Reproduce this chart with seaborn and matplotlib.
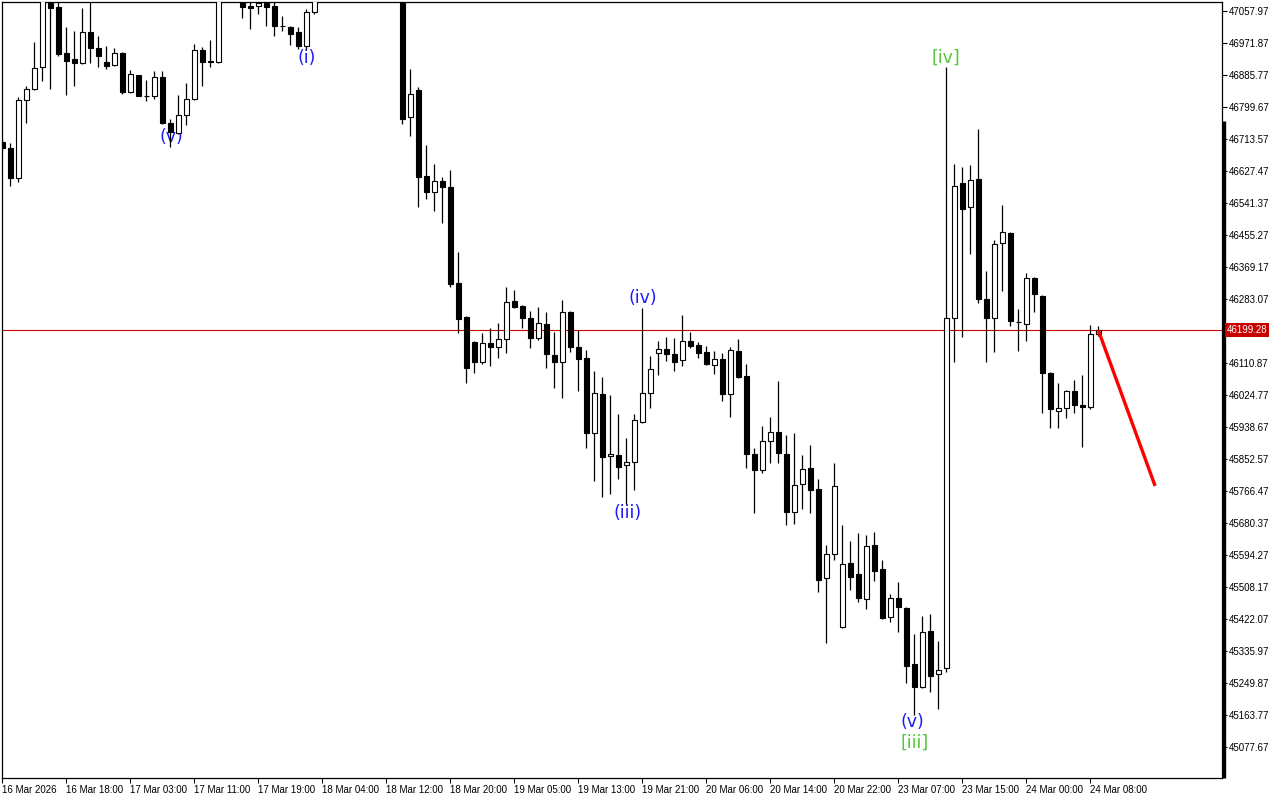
import numpy as np
import pandas as pd
import seaborn as sns
import matplotlib.pyplot as plt
from matplotlib.transforms import ScaledTranslation, blended_transform_factory

# hourly bars, index 0 .. 137
opens = [46705, 46689, 46609, 46819, 46848, 46907, 47109, 47069, 46945, 46929,
         46918, 47002, 46958, 46921, 46913, 46945, 46840, 46886, 46830, 46829,
         46880, 46757, 46730, 46778, 46821, 46953, 46923, 46921, 47109, 47140,
         47110, 47071, 47071, 47080, 47071, 47018, 47015, 47002, 46964, 47055,
         47085, 47130, 47165, 47190, 47175, 47205, 47240, 47215, 47230, 47255,
         47200, 46773, 46845, 46614, 46571, 46601, 46584, 46326, 46235, 46167,
         46114, 46165, 46154, 46175, 46278, 46264, 46232, 46178, 46216, 46132,
         46114, 46248, 46154, 46124, 45923, 46028, 45861, 45863, 45836, 45845,
         45952, 46030, 46138, 46149, 46135, 46119, 46170, 46159, 46140, 46105,
         46122, 46028, 46143, 46076, 45866, 45823, 45901, 45925, 45866, 45710,
         45785, 45828, 45772, 45532, 45597, 45401, 45573, 45543, 45476, 45621,
         45557, 45427, 45479, 45452, 45301, 45239, 45390, 45274, 45290, 46232,
         46595, 46531, 46606, 46283, 46232, 46434, 46461, 46222, 46216, 46340,
         46291, 46084, 45982, 45990, 46036, 45998, 45993, 46189]
highs = [46716, 46703, 46827, 46856, 46975, 47128, 47120, 47093, 47015, 47004,
         47066, 47085, 46991, 46964, 46958, 46948, 46899, 46887, 46872, 46897,
         46897, 46767, 46832, 46864, 46969, 46961, 46980, 47125, 47160, 47165,
         47120, 47095, 47100, 47098, 47090, 47045, 47018, 47015, 47063, 47110,
         47140, 47180, 47210, 47230, 47220, 47260, 47270, 47250, 47280, 47290,
         47210, 46902, 46853, 46697, 46646, 46611, 46630, 46410, 46237, 46170,
         46192, 46205, 46219, 46315, 46307, 46266, 46251, 46262, 46248, 46194,
         46280, 46250, 46200, 46146, 46089, 46073, 46025, 45974, 45909, 45974,
         46259, 46130, 46170, 46181, 46178, 46240, 46194, 46167, 46157, 46143,
         46138, 46154, 46175, 46108, 45882, 45941, 45966, 46062, 45917, 45923,
         45863, 45890, 45799, 45621, 45842, 45675, 45632, 45653, 45648, 45656,
         45581, 45489, 45522, 45454, 45382, 45430, 45436, 45363, 46907, 46646,
         46638, 46644, 46740, 46358, 46442, 46536, 46464, 46256, 46353, 46341,
         46294, 46086, 46057, 46037, 46065, 46079, 46213, 46210]
lows = [46679, 46587, 46598, 46757, 46845, 46870, 46848, 46937, 46832, 46856,
        46916, 46918, 46907, 46902, 46911, 46835, 46838, 46828, 46816, 46821,
        46755, 46692, 46728, 46751, 46819, 46856, 46907, 46918, 47095, 47100,
        47039, 47010, 47050, 47018, 46991, 47004, 46966, 46956, 46956, 47050,
        47092, 47110, 47150, 47160, 47150, 47190, 47200, 47180, 47210, 47190,
        46754, 46722, 46531, 46552, 46520, 46488, 46315, 46192, 46057, 46084,
        46108, 46103, 46124, 46138, 46260, 46205, 46151, 46173, 46097, 46044,
        46017, 46141, 46036, 45882, 45793, 45750, 45758, 45799, 45731, 45769,
        45949, 45990, 46079, 46116, 46089, 46103, 46151, 46124, 46105, 46081,
        46009, 45966, 46070, 45828, 45707, 45815, 45842, 45842, 45675, 45678,
        45718, 45707, 45495, 45358, 45581, 45399, 45500, 45468, 45449, 45524,
        45422, 45414, 45387, 45250, 45164, 45237, 45226, 45180, 45280, 46114,
        46181, 46404, 46272, 46114, 46140, 46305, 46210, 46143, 46170, 46248,
        45976, 45936, 45936, 45963, 45976, 45885, 45987, 46183]
closes = [46689, 46609, 46819, 46848, 46905, 47114, 47066, 46942, 46924, 46918,
          47002, 46958, 46937, 46910, 46945, 46840, 46888, 46829, 46829, 46880,
          46757, 46732, 46778, 46821, 46953, 46921, 46920, 47109, 47140, 47110,
          47069, 47066, 47080, 47069, 47018, 47017, 46996, 46964, 47055, 47085,
          47130, 47165, 47190, 47175, 47205, 47240, 47215, 47230, 47255, 47200,
          46767, 46835, 46611, 46571, 46601, 46584, 46323, 46229, 46097, 46114,
          46165, 46154, 46175, 46275, 46262, 46232, 46178, 46219, 46135, 46114,
          46248, 46154, 46122, 45923, 46030, 45858, 45866, 45831, 45845, 45958,
          46030, 46095, 46149, 46135, 46114, 46170, 46157, 46138, 46108, 46122,
          46028, 46146, 46073, 45866, 45823, 45901, 45925, 45869, 45710, 45783,
          45826, 45769, 45527, 45597, 45780, 45570, 45535, 45479, 45618, 45551,
          45425, 45479, 45454, 45296, 45239, 45387, 45269, 45285, 46232, 46587,
          46525, 46603, 46283, 46232, 46431, 46463, 46224, 46221, 46340, 46297,
          46084, 45987, 45990, 46036, 45998, 45993, 46189, 46199.28]

last_price = 46199.28

time_labels = ['16 Mar 2026', '16 Mar 18:00', '17 Mar 03:00', '17 Mar 11:00',
               '17 Mar 19:00', '18 Mar 04:00', '18 Mar 12:00', '18 Mar 20:00',
               '19 Mar 05:00', '19 Mar 13:00', '19 Mar 21:00', '20 Mar 06:00',
               '20 Mar 14:00', '20 Mar 22:00', '23 Mar 07:00', '23 Mar 15:00',
               '24 Mar 00:00', '24 Mar 08:00']
time_label_bars = list(range(0, 137, 8))

price_ticks = [45077.67 + 86.10 * i for i in range(24)]

# wave marks: text, bar, price, colour
wave_text = ['(v)', '(i)', '(iv)', '(iii)', '(v)', '[iii]', '[iv]']
wave_bar = [21.1, 38.0, 80.0, 78.1, 113.8, 114.0, 118.0]
wave_price = [46719, 46932, 46286, 45707, 45145, 45088, 46931]
wave_color = ['#1c1cf5'] * 5 + ['#55c83a'] * 2

forecast_bar = [137, 144.1]
forecast_price = [46199.28, 45780]


class CandleChart:
    def __init__(self, data: pd.DataFrame):
        self.data = data

    def _candles(self, ax):
        d = self.data
        ax.vlines(d['Bar'], d['Low'], d['High'], color='black', linewidth=0.9, zorder=2)
        bottom = d[['Open', 'Close']].min(axis=1)
        height = (d['Close'] - d['Open']).abs()
        colors = np.where(d['Close'] >= d['Open'], 'white', 'black')
        ax.bar(d['Bar'], height, bottom=bottom, width=0.58, color=colors,
               edgecolor='black', linewidth=0.8, zorder=3)

    def draw(self, path: str):
        sns.set_theme(style='white')
        plt.rcParams['font.family'] = ['Liberation Sans', 'DejaVu Sans']

        fig = plt.figure(figsize=(12.8, 8), dpi=100)
        ax = fig.add_axes([2 / 1280, 22 / 800, 1220 / 1280, 776 / 800])

        ax.axhline(last_price, color='#d00000', linewidth=0.8, zorder=1)
        self._candles(ax)
        ax.plot(forecast_bar, forecast_price, color='#ff0000', linewidth=2.4,
                solid_capstyle='butt', zorder=4)

        for s, b, p, c in zip(wave_text, wave_bar, wave_price, wave_color):
            ax.text(b, p, s, color=c, fontsize=12.5, ha='center', va='center',
                    family=['DejaVu Sans'], zorder=1)

        ax.set_xlim(-0.04, 152.46)
        ax.set_ylim(44994.3, 47082.2)

        ax.set_xticks(time_label_bars)
        ax.set_xticklabels(time_labels, fontsize=7, ha='left')
        shift = ScaledTranslation(2 / 72, 0, fig.dpi_scale_trans)
        for lbl in ax.get_xticklabels():
            lbl.set_transform(lbl.get_transform() + shift)

        yt = [t for t in price_ticks if abs(t - last_price) > 20]
        ax.yaxis.tick_right()
        ax.set_yticks(yt)
        ax.set_yticklabels([f'{t:.2f}' for t in yt], fontsize=7)

        ax.tick_params(axis='both', direction='out', length=3.5, width=0.8,
                       color='black', labelcolor='black', pad=1.5)
        ax.tick_params(axis='x', bottom=True)
        for sp in ax.spines.values():
            sp.set_visible(True)
            sp.set_color('black')
            sp.set_linewidth(0.9)

        # thick part of the price scale
        ax.plot([1.0015, 1.0015], [0, 657 / 776], transform=ax.transAxes,
                color='black', linewidth=2.4, clip_on=False, solid_capstyle='butt')

        tr = blended_transform_factory(ax.transAxes, ax.transData)
        ax.text(1.004, last_price, f'{last_price:.2f}', transform=tr, fontsize=7,
                color='white', ha='left', va='center',
                bbox=dict(boxstyle='square,pad=0.2', fc='#c80000', ec='none'))

        ax.set_xlabel('')
        ax.set_ylabel('')
        fig.savefig(path, dpi=100, facecolor='white')


def main():
    data = pd.DataFrame({'Open': opens, 'High': highs, 'Low': lows, 'Close': closes})
    data['Bar'] = np.arange(len(data))
    CandleChart(data).draw('out.png')


if __name__ == '__main__':
    main()
